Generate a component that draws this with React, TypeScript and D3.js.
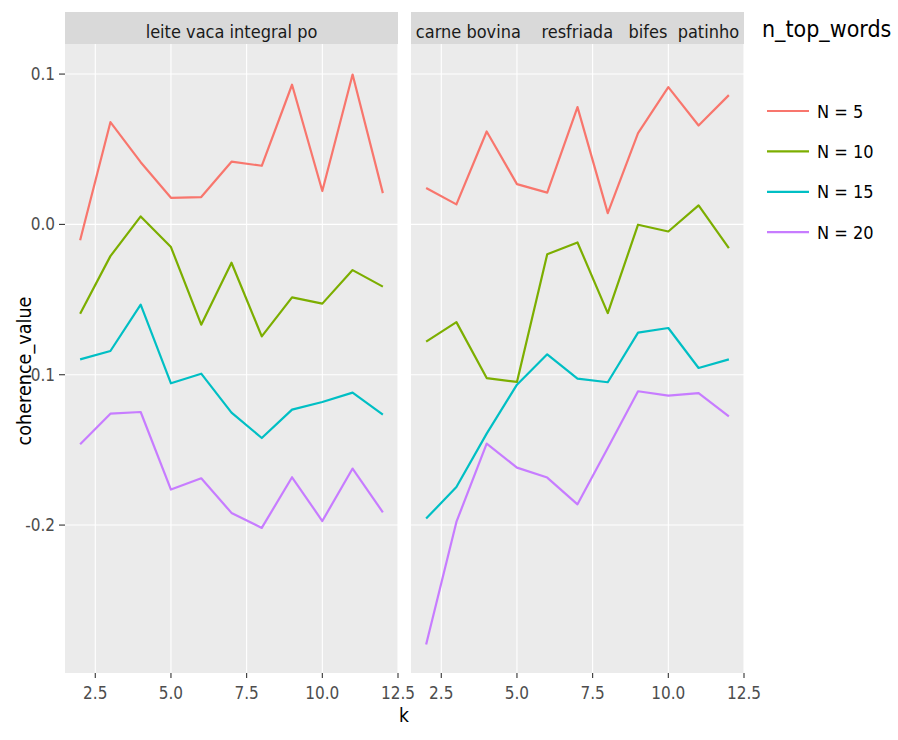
import React from "react";
import * as d3 from "d3";

const ks = [2, 3, 4, 5, 6, 7, 8, 9, 10, 11, 12];
const seriesNames = ["N = 5", "N = 10", "N = 15", "N = 20"];
const seriesColors = ["#F8766D", "#7CAE00", "#00BFC4", "#C77CFF"];
const panelTitles = ["leite vaca integral po", "carne bovina    resfriada   bifes  patinho"];

// panel 1: leite vaca integral po
const leiteN5 = [-0.0106, 0.068, 0.0414, 0.0177, 0.0182, 0.0417, 0.039, 0.0929, 0.0222, 0.0997, 0.0208];
const leiteN10 = [-0.0594, -0.0211, 0.0053, -0.0151, -0.0667, -0.0255, -0.0745, -0.0485, -0.0527, -0.0304, -0.0414];
const leiteN15 = [-0.0898, -0.0842, -0.0534, -0.1057, -0.0993, -0.1252, -0.1421, -0.1232, -0.1181, -0.1119, -0.1266];
const leiteN20 = [-0.1463, -0.1259, -0.1248, -0.1764, -0.1689, -0.1919, -0.2019, -0.1682, -0.1973, -0.1624, -0.1915];

// panel 2: carne bovina resfriada bifes patinho
const carneN5 = [0.0242, 0.0133, 0.0618, 0.0268, 0.0211, 0.078, 0.0075, 0.0607, 0.0913, 0.0658, 0.086];
const carneN10 = [-0.078, -0.065, -0.1022, -0.1048, -0.0199, -0.012, -0.059, -0.0002, -0.0047, 0.0126, -0.0158];
const carneN15 = [-0.1957, -0.1747, -0.1392, -0.1066, -0.0864, -0.1026, -0.105, -0.072, -0.0689, -0.0955, -0.0898];
const carneN20 = [-0.2795, -0.1979, -0.1458, -0.1618, -0.1684, -0.1862, -0.1487, -0.111, -0.1139, -0.1122, -0.1277];

const xTicks = [2.5, 5.0, 7.5, 10.0, 12.5];
const yTicks = [0.1, 0.0, -0.1, -0.2];

const panels = [
  { title: panelTitles[0], series: [leiteN5, leiteN10, leiteN15, leiteN20] },
  { title: panelTitles[1], series: [carneN5, carneN10, carneN15, carneN20] },
];

const W = 898;
const H = 740;
const FONT = "'DejaVu Sans Condensed', 'DejaVu Sans', sans-serif";

export default function App() {
  const panelX = [
    [65, 398],
    [411, 744],
  ];
  const top = 44;
  const bottom = 673;
  const stripTop = 12;
  const y = d3.scaleLinear().domain([-0.2984, 0.12]).range([bottom, top]);
  const fmt = (v: number) => (v < 0 ? "-" : "") + Math.abs(v).toFixed(1);

  return (
    <svg width={W} height={H} style={{ display: "block", position: "absolute", left: 0, top: 0 }} fontFamily={FONT}>
      <rect x={0} y={0} width={W} height={H} fill="#ffffff" />
      {panels.map((p, pi) => {
        const [x0, x1] = panelX[pi];
        const x = d3.scaleLinear().domain([1.5, 12.5]).range([x0, x1]);
        const line = d3
          .line<number>()
          .x((_, i) => x(ks[i]))
          .y((d) => y(d));
        return (
          <g key={pi}>
            <rect x={x0} y={top} width={x1 - x0} height={bottom - top} fill="#EBEBEB" />
            {yTicks.map((t) => (
              <line key={"gy" + t} x1={x0} x2={x1} y1={y(t)} y2={y(t)} stroke="#ffffff" strokeWidth={1.1} />
            ))}
            {xTicks.map((t) => (
              <line key={"gx" + t} x1={x(t)} x2={x(t)} y1={top} y2={bottom} stroke="#ffffff" strokeWidth={1.1} />
            ))}
            <rect x={x0} y={stripTop} width={x1 - x0} height={top - stripTop} fill="#D9D9D9" />
            <text
              x={(x0 + x1) / 2}
              y={38}
              textAnchor="middle"
              fontSize={18}
              fill="#1A1A1A"
              style={{ whiteSpace: "pre" }}
            >
              {p.title}
            </text>
            {p.series.map((s, si) => (
              <path key={si} d={line(s) || ""} fill="none" stroke={seriesColors[si]} strokeWidth={2.2} strokeLinejoin="round" />
            ))}
            {xTicks.map((t) => (
              <g key={"tx" + t}>
                <line x1={x(t)} x2={x(t)} y1={bottom} y2={bottom + 5} stroke="#333333" strokeWidth={1.1} />
                <text x={x(t)} y={bottom + 26} textAnchor="middle" fontSize={17} fill="#4D4D4D">
                  {t.toFixed(1)}
                </text>
              </g>
            ))}
            {pi === 0 &&
              yTicks.map((t) => (
                <g key={"ty" + t}>
                  <line x1={x0 - 6} x2={x0} y1={y(t)} y2={y(t)} stroke="#333333" strokeWidth={1.1} />
                  <text x={x0 - 10} y={y(t) + 6} textAnchor="end" fontSize={17} fill="#4D4D4D">
                    {fmt(t)}
                  </text>
                </g>
              ))}
          </g>
        );
      })}
      <text x={404} y={722} textAnchor="middle" fontSize={19} fill="#000000">
        k
      </text>
      <text transform={`translate(31, 371) rotate(-90)`} textAnchor="middle" fontSize={19.6} fill="#000000">
        coherence_value
      </text>
      <text x={762} y={37} fontSize={23} fill="#000000">
        n_top_words
      </text>
      {seriesNames.map((n, i) => {
        const ly = 111 + i * 40.4;
        return (
          <g key={n}>
            <line x1={767} x2={809} y1={ly} y2={ly} stroke={seriesColors[i]} strokeWidth={2.2} />
            <text x={817} y={ly + 6.5} fontSize={18} fill="#000000">
              {n}
            </text>
          </g>
        );
      })}
    </svg>
  );
}
